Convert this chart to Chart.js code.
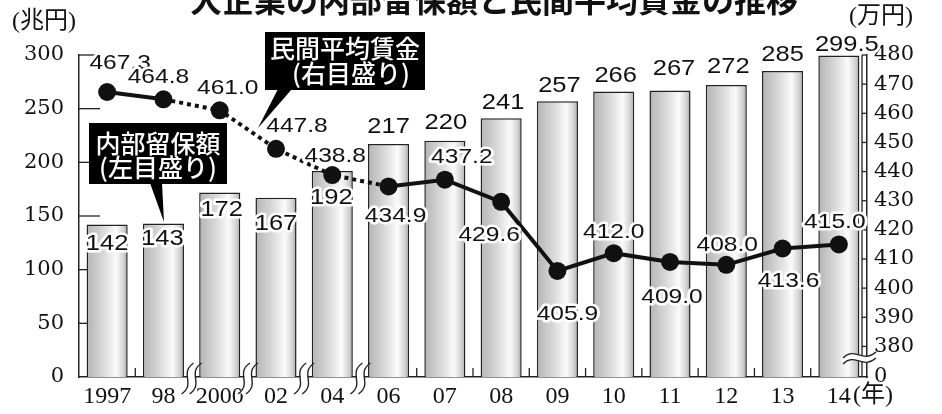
<!DOCTYPE html>
<html><head><meta charset="utf-8">
<script src="https://cdn.jsdelivr.net/npm/chart.js@4.4.0/dist/chart.umd.min.js"></script>
<style>html,body{margin:0;padding:0;background:#fff}#wrap{width:942px;height:414px;position:relative}</style>
</head><body><div id="wrap"><canvas id="c" width="942" height="414"></canvas></div>
<script>
// ---- data ----
const yearNums = [1997,1998,2000,2002,2004,2006,2007,2008,2009,2010,2011,2012,2013,2014];
const years = ['1997','98','2000','02','04','06','07','08','09','10','11','12','13','14'];
const retainedEarnings = [142,143,172,167,192,217,220,241,257,266,267,272,285,299.5]; // 兆円
const averageWage = [467.3,464.8,461.0,447.8,438.8,434.9,437.2,429.6,405.9,412.0,409.0,408.0,413.6,415.0]; // 万円
const leftTicks = [0,50,100,150,200,250,300];
const rightTicks = [380,390,400,410,420,430,440,450,460,470,480];
const rightAxisFloor = 369.5; // shown as "0" (broken axis)

// ---- label placement (layout only) ----
const barLabelShift = [[0,19],[-1,15],[2,18],[0,26],[-1,27],[0,-17],[1,-18],[2,-15],[2,-15],[2,-16],[4,-21],[2,-18],[0,-16],[8,-11]];
const wageLabelShift = [[13,-29],[-5,-22],[8,-22],[21,-23],[3,-19],[7,30],[17,-23],[-12,33],[10,43],[0,-21],[2,35],[1,-20],[6,33],[-4,-22]];

const isGap = i => yearNums[i+1]-yearNums[i] > 1;

function haloText(ctx, text, x, y, font, sx){
  ctx.save(); ctx.translate(x,y); ctx.scale(sx||1,1);
  ctx.font=font; ctx.textAlign='center'; ctx.textBaseline='middle';
  ctx.lineJoin='round'; ctx.strokeStyle='#fff'; ctx.lineWidth=5; ctx.strokeText(text,0,0);
  ctx.fillStyle='#111'; ctx.fillText(text,0,0); ctx.restore();
}
function vBreak(ctx, xb, y0, y1){
  const path = (dx)=>{ const h=y1-y0; ctx.beginPath(); ctx.moveTo(xb+dx+6,y0); ctx.bezierCurveTo(xb+dx-9,y0+h*0.35, xb+dx+9,y0+h*0.65, xb+dx-6,y1); };
  ctx.save();
  path(0); ctx.strokeStyle='#fff'; ctx.lineWidth=7; ctx.stroke();
  ctx.strokeStyle='#222'; ctx.lineWidth=1.4;
  path(-4); ctx.stroke(); path(4); ctx.stroke();
  ctx.restore();
}
function hBreak(ctx, x0, x1, yb){
  const path = (dy)=>{ const w=x1-x0; ctx.beginPath(); ctx.moveTo(x0,yb+dy+3); ctx.bezierCurveTo(x0+w*0.35,yb+dy-9, x0+w*0.6,yb+dy+9, x1,yb+dy-3); };
  ctx.save();
  path(0); ctx.strokeStyle='#fff'; ctx.lineWidth=6; ctx.stroke();
  ctx.strokeStyle='#222'; ctx.lineWidth=1.3;
  path(-3); ctx.stroke(); path(3); ctx.stroke();
  ctx.restore();
}
function callout(ctx, box, ptr, lines){
  ctx.save();
  ctx.fillStyle='#000';
  ctx.fillRect(box[0],box[1],box[2]-box[0],box[3]-box[1]);
  ctx.beginPath(); ctx.moveTo(ptr[0][0],ptr[0][1]); ctx.lineTo(ptr[1][0],ptr[1][1]); ctx.lineTo(ptr[2][0],ptr[2][1]); ctx.closePath(); ctx.fill();
  ctx.fillStyle='#fff'; ctx.textAlign='center'; ctx.textBaseline='middle';
  ctx.font='500 25px "Noto Sans CJK JP"';
  const cx=(box[0]+box[2])/2;
  lines.forEach(l=>ctx.fillText(l[0], cx+(l[2]||0), l[1]));
  ctx.restore();
}

const decor = {
  id:'decor',
  beforeDatasetsDraw(chart){
    const {ctx, chartArea:a, scales:{x,y,y1}} = chart;
    ctx.save(); ctx.strokeStyle='#222'; ctx.lineWidth=1.3;
    leftTicks.forEach(v=>{ if(v===0) return; const py=y.getPixelForValue(v); ctx.beginPath(); ctx.moveTo(a.left,py); ctx.lineTo(a.left+21,py); ctx.stroke(); });
    ctx.beginPath(); ctx.moveTo(a.right-5,a.top); ctx.lineTo(a.right-5,a.bottom); ctx.stroke();
    rightTicks.forEach(v=>{ const py=y1.getPixelForValue(v); ctx.beginPath(); ctx.moveTo(a.right-5,py); ctx.lineTo(a.right,py); ctx.stroke(); });
    for(let i=0;i<years.length-1;i++){
      if(isGap(i)) continue;
      const bx=(x.getPixelForValue(i)+x.getPixelForValue(i+1))/2;
      ctx.beginPath(); ctx.moveTo(bx,a.bottom); ctx.lineTo(bx,a.bottom-9); ctx.stroke();
    }
    ctx.restore();
  },
  afterDatasetsDraw(chart){
    const {ctx, chartArea:a, scales:{x}} = chart;
    for(let i=0;i<years.length-1;i++){
      if(!isGap(i)) continue;
      const bx=(x.getPixelForValue(i)+x.getPixelForValue(i+1))/2;
      vBreak(ctx, bx, a.bottom-14, a.bottom+17);
    }
    hBreak(ctx, a.right-24, a.right+9, a.bottom-19);
    const bars = chart.getDatasetMeta(1).data;
    bars.forEach((el,i)=>{
      const s=barLabelShift[i];
      haloText(ctx, String(retainedEarnings[i]), el.x+s[0], el.y+s[1], '22px "Liberation Sans"', 1.16);
    });
    const pts = chart.getDatasetMeta(0).data;
    pts.forEach((el,i)=>{
      const s=wageLabelShift[i];
      haloText(ctx, averageWage[i].toFixed(1), el.x+s[0], el.y+s[1], '21px "Liberation Sans"', 1.17);
    });
    callout(ctx, [265,32,425,90], [[278,89],[292,89],[258,128]], [['民間平均賃金',48],['(右目盛り)',73,6]]);
    callout(ctx, [89,123,227,184], [[150,183],[162,183],[164,222]], [['内部留保額',143],['(左目盛り)',167,0]]);
    ctx.save();
    ctx.fillStyle='#111'; ctx.textBaseline='middle';
    ctx.font='24px "Liberation Serif", "Noto Sans CJK JP"';
    ctx.textAlign='left';
    ctx.fillText('(兆円)', 12, 22);
    ctx.fillText('(万円)', 849, 17);
    ctx.fillText('(年)', 853, 396);
    ctx.font='bold 32px "Noto Sans CJK JP"'; ctx.textAlign='center'; ctx.textBaseline='alphabetic';
    ctx.fillText('大企業の内部留保額と民間平均賃金の推移', 494, 12);
    ctx.restore();
  }
};

function barGradient(c){
  const chart=c.chart, xs=chart.scales.x;
  if(!xs || !chart.chartArea || c.dataIndex===undefined) return '#ddd';
  const cx=xs.getPixelForValue(c.dataIndex);
  const w=xs.width/years.length*0.73;
  const g=chart.ctx.createLinearGradient(cx-w/2,0,cx+w/2,0);
  g.addColorStop(0,'#b4b4b4'); g.addColorStop(0.4,'#d8d8d8'); g.addColorStop(0.72,'#fbfbfb');
  g.addColorStop(0.9,'#d2d2d2'); g.addColorStop(1,'#a4a4a4');
  return g;
}

const axisFont = {family:'"DejaVu Serif"', size:21};
new Chart(document.getElementById('c'), {
  data:{
    labels: years,
    datasets:[
      { type:'line', data: averageWage, yAxisID:'y1', order:0,
        borderColor:'#111', borderWidth:4, tension:0,
        pointRadius:9, pointBackgroundColor:'#111', pointBorderWidth:0, pointHoverRadius:9,
        segment:{ borderDash: s => isGap(s.p0DataIndex) ? [4,4] : undefined } },
      { type:'bar', data: retainedEarnings, yAxisID:'y', order:1,
        backgroundColor: barGradient, borderColor:'#222', borderWidth:1.5,
        barPercentage:1, categoryPercentage:0.73 }
    ]
  },
  options:{
    responsive:false, animation:false, events:[],
    layout:{padding:{top:55,left:0,right:0,bottom:0}},
    plugins:{legend:{display:false}, tooltip:{enabled:false}},
    scales:{
      x:{ offset:true, grid:{display:false, drawTicks:false},
          border:{display:true, color:'#222', width:1.5},
          ticks:{font:{family:'"Liberation Serif"', size:24}, color:'#111', padding:5, maxRotation:0, autoSkip:false},
          afterFit(s){ s.height=37; } },
      y:{ position:'left', min:0, max:300,
          grid:{display:false, drawTicks:false},
          border:{display:true, color:'#222', width:1.5},
          afterBuildTicks(s){ s.ticks = leftTicks.map(v=>({value:v})); },
          ticks:{font:axisFont, color:'#111', padding:15},
          afterFit(s){ s.width=79; } },
      y1:{ position:'right', min:rightAxisFloor, max:480,
          grid:{display:false, drawTicks:false},
          border:{display:true, color:'#222', width:1.5},
          afterBuildTicks(s){ s.ticks = [rightAxisFloor, ...rightTicks].map(v=>({value:v})); },
          ticks:{font:axisFont, color:'#111', padding:7, callback:v => v===rightAxisFloor ? '0' : String(v)},
          afterFit(s){ s.width=75; } }
    }
  },
  plugins:[decor]
});
</script>
</body></html>
